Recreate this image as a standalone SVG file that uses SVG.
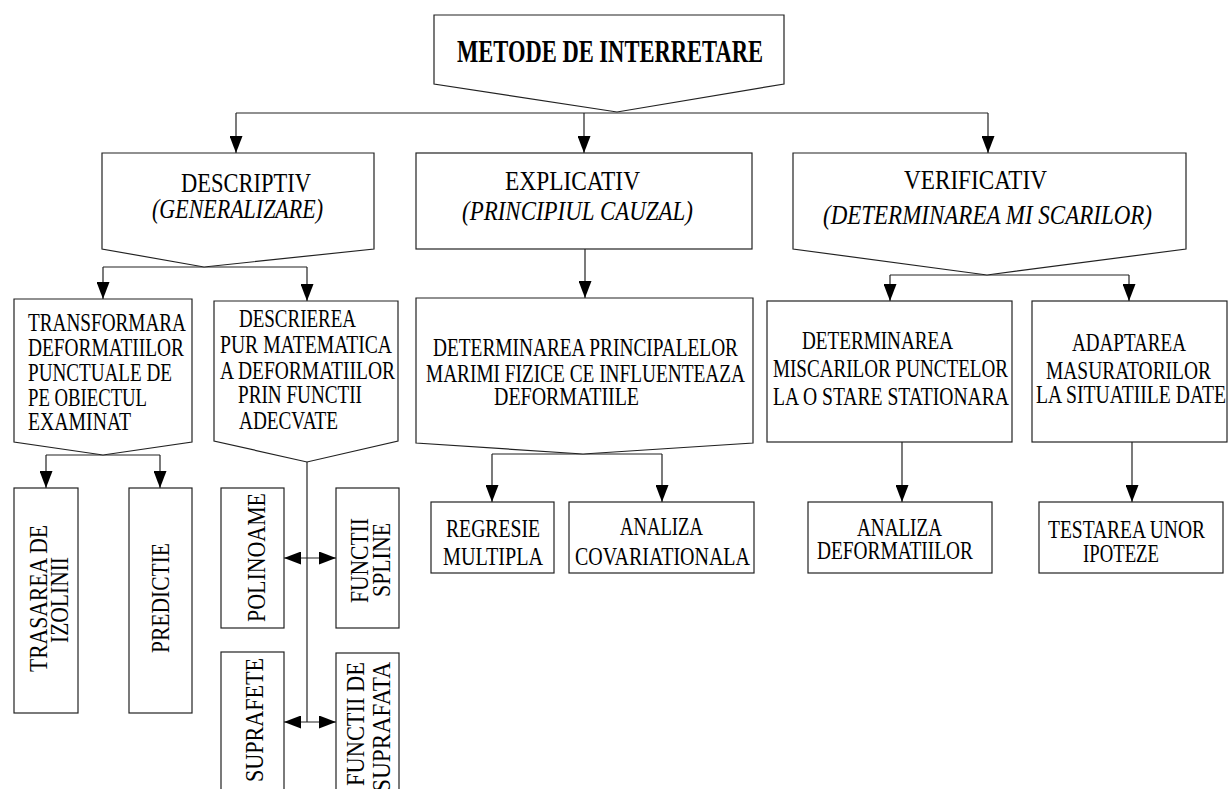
<svg xmlns="http://www.w3.org/2000/svg" width="1229" height="789" viewBox="0 0 1229 789">
  <defs>
    <style>
      .box { fill: #fff; stroke: #222; stroke-width: 1.2; }
      .wire { fill: none; stroke: #222; stroke-width: 1.2; }
      .arr { marker-end: url(#head); }
      .dbl { marker-start: url(#head); marker-end: url(#head); }
      text { font-family: "Liberation Serif", "Times New Roman", serif; fill: #000; }
      .h0 { font-size: 31px; font-weight: bold; }
      .h1 { font-size: 28px; }
      .it { font-style: italic; }
      .b { font-size: 24.5px; }
      .bm { font-size: 26px; }
    </style>
    <marker id="head" markerUnits="userSpaceOnUse" markerWidth="17" markerHeight="13" refX="17" refY="6.5" orient="auto-start-reverse">
      <path d="M0,0 L17,6.5 L0,13 Z" fill="#000"/>
    </marker>
  </defs>
  <rect width="1229" height="789" fill="#fff"/>

  <!-- connectors -->
  <g id="connectors">
    <path class="wire" d="M236,113 H988"/>
    <path class="wire arr" d="M236,113 V153"/>
    <path class="wire arr" d="M584,113 V153"/>
    <path class="wire arr" d="M988,113 V153"/>

    <path class="wire" d="M204,258 V267 M103,267 H307"/>
    <path class="wire arr" d="M103,267 V299"/>
    <path class="wire arr" d="M307,267 V301"/>

    <path class="wire arr" d="M585,249 V298"/>

    <path class="wire" d="M492,454 H662"/>
    <path class="wire arr" d="M492,454 V502"/>
    <path class="wire arr" d="M662,454 V502"/>

    <path class="wire" d="M987,265 V275 M890,275 H1129"/>
    <path class="wire arr" d="M890,275 V301"/>
    <path class="wire arr" d="M1129,275 V301"/>

    <path class="wire" d="M103,447 V455 M46,455 H160"/>
    <path class="wire arr" d="M46,455 V488"/>
    <path class="wire arr" d="M160,455 V488"/>

    <path class="wire" d="M307,453 V722"/>
    <path class="wire dbl" d="M284,558 H336"/>
    <path class="wire dbl" d="M284,722 H336"/>

    <path class="wire arr" d="M902,442 V502"/>
    <path class="wire arr" d="M1132,442 V502"/>
  </g>

  <!-- level 0 -->
  <g id="metode">
    <polygon class="box" points="434,15 784,15 784,84 617,112 434,84"/>
    <text class="h0" x="457" y="62" textLength="306" lengthAdjust="spacingAndGlyphs">METODE DE INTERRETARE</text>
  </g>

  <!-- level 1 -->
  <g id="descriptiv">
    <polygon class="box" points="102,153 374,153 374,249 204,267 102,249"/>
    <text class="h1" x="181" y="192" textLength="130" lengthAdjust="spacingAndGlyphs">DESCRIPTIV</text>
    <text class="h1 it" x="152" y="218" textLength="171" lengthAdjust="spacingAndGlyphs">(GENERALIZARE)</text>
  </g>
  <g id="explicativ">
    <rect class="box" x="416" y="153" width="336" height="96"/>
    <text class="h1" x="505" y="190" textLength="135" lengthAdjust="spacingAndGlyphs">EXPLICATIV</text>
    <text class="h1 it" x="462" y="220" textLength="231" lengthAdjust="spacingAndGlyphs">(PRINCIPIUL CAUZAL)</text>
  </g>
  <g id="verificativ">
    <polygon class="box" points="793,153 1186,153 1186,249 987,275 793,249"/>
    <text class="h1" x="904" y="189" textLength="143" lengthAdjust="spacingAndGlyphs">VERIFICATIV</text>
    <text class="h1 it" x="823" y="224" textLength="329" lengthAdjust="spacingAndGlyphs">(DETERMINAREA MI SCARILOR)</text>
  </g>

  <!-- level 2 -->
  <g id="transformara">
    <polygon class="box" points="14,299 192,299 192,442 103,455 14,442"/>
    <text class="b" x="28" y="331" textLength="158" lengthAdjust="spacingAndGlyphs">TRANSFORMARA</text>
    <text class="b" x="28" y="356" textLength="156" lengthAdjust="spacingAndGlyphs">DEFORMATIILOR</text>
    <text class="b" x="28" y="381" textLength="144" lengthAdjust="spacingAndGlyphs">PUNCTUALE DE</text>
    <text class="b" x="28" y="406" textLength="119" lengthAdjust="spacingAndGlyphs">PE OBIECTUL</text>
    <text class="b" x="28" y="430" textLength="103" lengthAdjust="spacingAndGlyphs">EXAMINAT</text>
  </g>
  <g id="descrierea">
    <polygon class="box" points="214,301 398,301 398,441 307,462 214,441"/>
    <text class="b" x="239" y="327" textLength="117" lengthAdjust="spacingAndGlyphs">DESCRIEREA</text>
    <text class="b" x="220" y="353" textLength="172" lengthAdjust="spacingAndGlyphs">PUR MATEMATICA</text>
    <text class="b" x="220" y="379" textLength="175" lengthAdjust="spacingAndGlyphs">A DEFORMATIILOR</text>
    <text class="b" x="238" y="403" textLength="124" lengthAdjust="spacingAndGlyphs">PRIN FUNCTII</text>
    <text class="b" x="239" y="429" textLength="99" lengthAdjust="spacingAndGlyphs">ADECVATE</text>
  </g>
  <g id="principalelor">
    <polygon class="box" points="416,298 753,298 753,443 583,454 416,443"/>
    <text class="bm" x="433" y="356" textLength="305" lengthAdjust="spacingAndGlyphs">DETERMINAREA PRINCIPALELOR</text>
    <text class="bm" x="426" y="382" textLength="319" lengthAdjust="spacingAndGlyphs">MARIMI FIZICE CE INFLUENTEAZA</text>
    <text class="bm" x="494" y="405" textLength="145" lengthAdjust="spacingAndGlyphs">DEFORMATIILE</text>
  </g>
  <g id="miscarilor">
    <rect class="box" x="767" y="301" width="245" height="141"/>
    <text class="bm" x="802" y="349" textLength="151" lengthAdjust="spacingAndGlyphs">DETERMINAREA</text>
    <text class="bm" x="773" y="377" textLength="235" lengthAdjust="spacingAndGlyphs">MISCARILOR PUNCTELOR</text>
    <text class="bm" x="773" y="405" textLength="236" lengthAdjust="spacingAndGlyphs">LA O STARE STATIONARA</text>
  </g>
  <g id="adaptarea">
    <rect class="box" x="1032" y="301" width="195" height="141"/>
    <text class="bm" x="1072" y="351" textLength="114" lengthAdjust="spacingAndGlyphs">ADAPTAREA</text>
    <text class="bm" x="1046" y="379" textLength="165" lengthAdjust="spacingAndGlyphs">MASURATORILOR</text>
    <text class="bm" x="1036" y="403" textLength="190" lengthAdjust="spacingAndGlyphs">LA SITUATIILE DATE</text>
  </g>

  <!-- level 3 -->
  <g id="trasarea">
    <rect class="box" x="14" y="488" width="64" height="225"/>
    <text class="b" transform="translate(47,672) rotate(-90)" textLength="147" lengthAdjust="spacingAndGlyphs">TRASAREA DE</text>
    <text class="b" transform="translate(68,643) rotate(-90)" textLength="86" lengthAdjust="spacingAndGlyphs">IZOLINII</text>
  </g>
  <g id="predictie">
    <rect class="box" x="129" y="488" width="63" height="225"/>
    <text class="b" transform="translate(169,653) rotate(-90)" textLength="110" lengthAdjust="spacingAndGlyphs">PREDICTIE</text>
  </g>
  <g id="polinoame">
    <rect class="box" x="221" y="488" width="63" height="140"/>
    <text class="b" transform="translate(265,622) rotate(-90)" textLength="129" lengthAdjust="spacingAndGlyphs">POLINOAME</text>
  </g>
  <g id="functii-spline">
    <rect class="box" x="336" y="488" width="63" height="140"/>
    <text class="b" transform="translate(368,603) rotate(-90)" textLength="85" lengthAdjust="spacingAndGlyphs">FUNCTII</text>
    <text class="b" transform="translate(390,597) rotate(-90)" textLength="74" lengthAdjust="spacingAndGlyphs">SPLINE</text>
  </g>
  <g id="suprafete">
    <rect class="box" x="221" y="652" width="63" height="150"/>
    <text class="b" transform="translate(263,782) rotate(-90)" textLength="124" lengthAdjust="spacingAndGlyphs">SUPRAFETE</text>
  </g>
  <g id="functii-suprafata">
    <rect class="box" x="336" y="653" width="63" height="150"/>
    <text class="b" text-anchor="end" transform="translate(364,662) rotate(-90)" textLength="124" lengthAdjust="spacingAndGlyphs">FUNCTII DE</text>
    <text class="b" text-anchor="end" transform="translate(390,662) rotate(-90)" textLength="130" lengthAdjust="spacingAndGlyphs">SUPRAFATA</text>
  </g>
  <g id="regresie">
    <rect class="box" x="431" y="502" width="123" height="71"/>
    <text class="b" x="446" y="537" textLength="94" lengthAdjust="spacingAndGlyphs">REGRESIE</text>
    <text class="b" x="443" y="565" textLength="100" lengthAdjust="spacingAndGlyphs">MULTIPLA</text>
  </g>
  <g id="covariationala">
    <rect class="box" x="569" y="502" width="185" height="71"/>
    <text class="b" x="620" y="535" textLength="83" lengthAdjust="spacingAndGlyphs">ANALIZA</text>
    <text class="b" x="575" y="565" textLength="175" lengthAdjust="spacingAndGlyphs">COVARIATIONALA</text>
  </g>
  <g id="analiza-deformatiilor">
    <rect class="box" x="808" y="502" width="184" height="71"/>
    <text class="b" x="857" y="536" textLength="85" lengthAdjust="spacingAndGlyphs">ANALIZA</text>
    <text class="b" x="817" y="559" textLength="156" lengthAdjust="spacingAndGlyphs">DEFORMATIILOR</text>
  </g>
  <g id="testarea">
    <rect class="box" x="1039" y="502" width="184" height="71"/>
    <text class="b" x="1048" y="538" textLength="157" lengthAdjust="spacingAndGlyphs">TESTAREA UNOR</text>
    <text class="b" x="1083" y="562" textLength="76" lengthAdjust="spacingAndGlyphs">IPOTEZE</text>
  </g>
</svg>
